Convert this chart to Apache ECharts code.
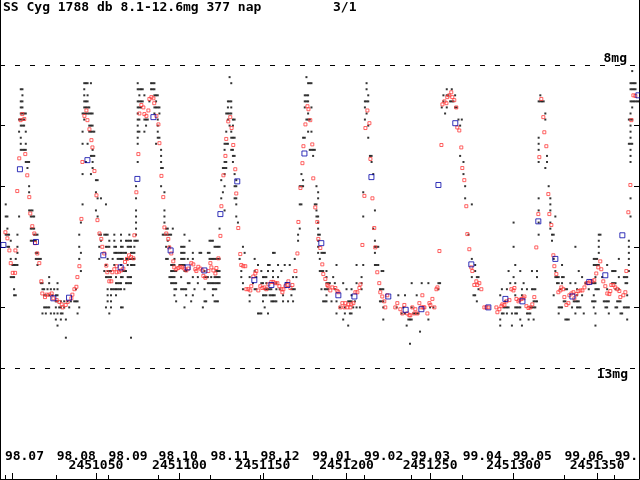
<!DOCTYPE html>
<html>
<head>
<meta charset="utf-8">
<title>SS Cyg 1788 db</title>
<script src="https://cdn.jsdelivr.net/npm/echarts@6.0.0/dist/echarts.min.js"></script>
<style>
html, body { margin: 0; padding: 0; background: #fff; }
#main1 { width: 640px; height: 480px; }
</style>
</head>
<body>
<div id="main1"></div>
<script>
// day offsets are counted from JD 2451000
var JD0 = 2451000;

// visual estimates: [day, mag, mag, ...]
var visualEst = [
    [-4, 10.3, 10.5, 10.8], [-3, 10.5, 10.7, 10.8, 11.0], [-2, 10.8, 11.0], [-1, 10.9, 11.2, 11.5],
    [0, 11.3, 11.5], [1, 11.3, 11.5, 11.7, 11.8], [2, 11.2, 11.3, 11.8], [3, 10.8, 11.0, 11.1, 11.3],
    [4, 8.9, 9.1, 10.5], [5, 8.4, 8.6, 8.7, 8.8, 8.9, 9.0, 9.2, 9.3, 9.4], [6, 8.4, 8.5, 8.6, 8.7, 8.8, 8.9, 9.0, 9.4],
    [7, 8.8, 8.9, 9.0, 9.4], [8, 8.8, 9.1, 9.3, 9.4, 9.6], [9, 9.6, 9.7], [10, 9.6, 10.0, 10.1, 10.4],
    [11, 10.4, 10.5, 10.7, 10.9], [12, 10.4, 10.5, 10.7, 10.9], [13, 10.5, 10.7, 10.8, 10.9],
    [14, 10.8, 10.9, 11.1, 11.2], [15, 10.8, 11.1, 11.2, 11.3], [16, 11.2], [17, 11.2, 11.6],
    [18, 11.6, 11.7, 12.1], [19, 11.7, 11.8, 12.0], [20, 11.8, 12.0, 12.1], [21, 11.7, 12.0],
    [22, 11.5, 11.6, 11.8, 12.0], [23, 11.7, 12.1], [24, 11.8], [25, 11.7, 12.1], [26, 11.8, 11.9, 12.0, 12.2],
    [27, 11.6, 11.7, 11.8, 11.9, 12.1, 12.3], [28, 12.0], [29, 11.9, 12.0, 12.1, 12.2], [30, 12.1],
    [31, 11.9, 12.0], [32, 12.2, 12.5], [33, 11.9], [34, 12.0], [35, 11.9], [37, 11.9], [38, 11.7, 11.9],
    [39, 11.9, 12.1], [40, 10.8, 11.0, 11.2, 12.0], [41, 10.6, 11.1, 11.4], [42, 8.8, 9.1, 9.3, 9.8, 10.3],
    [43, 8.3, 8.4, 8.5, 8.6, 8.7, 8.8, 8.9], [44, 8.3, 8.6, 8.7, 8.8, 9.6], [45, 8.3, 8.5, 8.6, 8.7, 8.8, 9.3],
    [46, 8.7, 8.8, 9.0, 9.1], [47, 8.3, 8.8, 9.0, 9.1, 9.5, 9.8], [48, 8.8, 9.0, 9.1, 9.4, 9.5, 9.6, 9.7],
    [49, 9.1, 9.5], [50, 9.9, 10.1, 10.4], [51, 9.9, 10.2, 10.5], [52, 10.8, 11.0, 11.2], [53, 10.2, 10.8, 10.9],
    [55, 10.8, 11.4], [56, 10.3, 10.8, 11.0, 11.3, 11.5, 12.0], [57, 10.8, 11.0, 11.2, 11.4, 11.5, 11.7, 11.8, 11.9],
    [58, 10.9, 11.0, 11.4, 11.5, 12.1], [59, 11.4, 11.5, 11.7, 11.8, 11.9, 12.0], [60, 11.2, 11.7],
    [61, 10.8, 10.9, 11.0, 11.1, 11.3, 11.7], [62, 11.0, 11.1, 11.5, 11.6, 11.7, 11.8], [63, 11.1, 11.2, 11.6, 11.7],
    [64, 11.1, 11.2, 11.6, 11.7], [65, 10.8, 10.9, 11.0, 11.1, 11.2, 11.3, 11.5, 11.6, 11.7, 12.0],
    [66, 11.0, 11.1, 11.2, 11.4, 11.5, 12.0], [67, 11.1, 11.4, 11.7], [68, 10.9, 11.1, 11.2, 11.4, 11.6],
    [69, 10.9, 11.0, 11.2, 11.3, 11.5, 11.6], [70, 10.8, 10.9, 11.0, 11.2, 11.5, 11.6],
    [71, 10.9, 11.0, 11.1, 11.2, 11.3, 11.5, 11.6, 12.5], [72, 11.1, 11.2, 11.3], [73, 10.9, 11.0, 11.1, 11.2, 11.3],
    [74, 10.0, 10.2, 10.4, 10.5, 10.6, 10.7, 10.8, 10.9], [75, 8.3, 8.4, 8.6, 8.7, 8.8, 8.9, 9.0, 9.1, 9.2, 9.3, 9.6, 10.9],
    [76, 8.4, 8.5, 8.6, 8.7, 8.9, 9.1], [77, 8.4, 8.6, 8.7], [78, 8.4, 8.6], [79, 8.5, 8.9, 9.1], [80, 8.9, 9.0],
    [81, 8.9], [82, 8.6], [83, 8.3, 8.4], [84, 8.3, 8.4], [85, 8.3, 8.4, 8.5, 8.7, 8.8], [86, 8.5, 8.6, 8.7, 9.3],
    [87, 8.5, 8.7, 8.9, 9.0, 9.1, 9.2], [88, 8.7, 8.8, 9.2], [89, 9.4, 9.5, 9.6, 9.7, 10.0], [90, 9.7, 10.8],
    [91, 10.1, 10.4, 10.5, 10.6, 10.8], [92, 10.7, 10.8, 11.0, 11.2], [93, 10.7, 10.8, 10.9, 11.2], [94, 10.8, 11.0, 11.5],
    [95, 10.8, 11.3, 11.4, 11.5, 11.6], [96, 10.7, 11.3, 11.4, 11.5, 11.6], [97, 11.2, 11.3, 11.4, 11.5, 11.6, 11.7, 11.8],
    [98, 11.4, 11.6, 11.7, 11.9], [100, 11.3], [101, 11.0, 11.1, 11.2, 11.3, 11.5, 11.7], [102, 11.0, 11.1, 11.2, 11.3, 11.7],
    [103, 10.8, 11.0, 11.1, 11.2, 11.3, 11.4, 11.7, 12.0], [104, 11.4, 11.7, 11.8], [105, 11.2, 11.6], [106, 10.9, 11.6],
    [107, 11.9], [108, 11.1, 11.2, 11.5, 11.8], [109, 11.7], [111, 11.5, 11.6], [112, 11.1], [113, 11.1], [114, 12.0],
    [115, 11.4, 11.5, 11.7, 11.9], [116, 11.5, 11.9], [117, 11.1, 11.5, 11.6], [118, 10.9, 11.1, 11.2, 11.6],
    [119, 10.9, 11.2, 11.5, 11.6], [120, 10.9, 11.2, 11.6, 11.7, 11.8], [121, 11.0, 11.2, 11.5, 11.6, 11.7, 11.9],
    [122, 11.0, 11.2, 11.4, 11.5, 11.6, 11.7, 11.9], [123, 11.0, 11.2, 11.4, 11.5, 11.6, 11.9],
    [124, 10.7, 11.0, 11.2, 11.4, 11.5, 11.6], [125, 9.9, 10.2], [126, 9.7, 10.1], [127, 9.3, 9.4, 9.6, 9.7, 9.8, 10.0, 10.4],
    [128, 8.8, 9.1, 9.3, 9.6, 9.7], [129, 8.6, 8.7, 8.8, 8.9, 9.3], [130, 8.2, 8.6, 8.8, 9.0],
    [131, 8.3, 8.6, 8.7, 8.8, 9.1, 9.2, 9.4], [132, 8.9, 9.0, 9.2, 9.4, 9.5, 9.6], [133, 8.9, 9.2, 9.5, 9.8, 10.0, 10.2],
    [134, 9.9, 10.0, 10.2, 10.3, 10.5], [135, 10.6], [136, 11.2], [137, 11.4, 11.5], [138, 11.0, 11.6, 11.7], [139, 11.1],
    [142, 11.5, 11.8, 11.9], [144, 11.6], [145, 11.2, 11.4, 11.7], [146, 11.5, 11.7], [147, 11.3, 12.1], [148, 12.1],
    [149, 11.4, 11.6, 12.1], [150, 11.5, 11.6, 11.8, 11.9], [151, 11.5, 11.7, 11.8, 12.0], [152, 11.5, 11.6, 11.7, 11.8],
    [153, 11.3, 11.4, 11.7, 12.1], [154, 11.3, 11.7, 11.8], [155, 11.7, 11.8, 11.9], [156, 11.1, 11.4, 11.5, 11.8, 11.9],
    [157, 11.1, 11.8, 11.9], [158, 11.6, 11.7, 11.9], [159, 11.3, 11.5], [160, 11.7], [161, 11.4], [162, 11.8, 11.9],
    [163, 11.3], [164, 11.6], [165, 11.9], [166, 11.3], [167, 11.7, 11.8], [168, 11.5, 11.7, 11.9], [169, 11.2, 11.7],
    [170, 11.5], [171, 10.8, 10.9], [172, 10.0, 10.3, 10.7], [173, 9.8, 10.0, 10.3], [174, 9.2, 9.9, 10.0],
    [175, 8.5, 8.6, 8.7, 9.2], [176, 8.2, 8.5, 8.6, 8.9], [177, 8.3, 8.5, 8.6, 8.8, 8.9, 9.1], [178, 8.3, 8.9, 9.4],
    [179, 8.3, 8.7, 9.1, 9.4], [180, 9.4, 9.5], [181, 9.4, 10.3], [182, 10.0, 10.3, 10.4, 10.5],
    [183, 10.1, 10.2, 10.5, 10.6, 10.7, 10.8, 10.9, 11.0, 11.1], [184, 10.8, 11.2, 11.4], [185, 11.1, 11.4, 11.7],
    [186, 11.1, 11.4, 11.9], [187, 11.1, 11.7, 11.9], [188, 11.4, 11.5, 11.6, 11.7, 11.8, 11.9], [189, 11.6, 11.7],
    [190, 11.6], [191, 11.9], [192, 11.5], [193, 11.6, 11.7], [194, 11.3, 11.9, 12.1], [196, 12.0], [198, 11.6, 12.2],
    [199, 12.0, 12.1], [200, 11.7], [201, 11.9, 12.3], [202, 11.9, 12.1], [203, 11.7, 11.8, 11.9, 12.1], [204, 12.0],
    [205, 11.9], [206, 11.3, 11.6, 12.0], [208, 12.0], [209, 11.5, 11.6, 11.7], [210, 10.1, 10.5, 11.3],
    [211, 8.6, 8.7, 8.9], [212, 8.3, 8.4, 8.6, 8.8], [213, 8.5, 8.6, 9.0, 9.2], [214, 9.5], [215, 9.5, 9.6],
    [216, 9.8, 10.7], [217, 10.4, 10.9, 11.0, 11.1, 11.3], [218, 11.0, 11.3], [219, 11.0, 11.3], [220, 11.7, 11.9],
    [221, 11.4, 11.7, 11.9], [222, 11.4, 11.7, 11.9, 12.0, 12.2], [230, 12.0], [231, 11.8], [233, 12.1], [234, 12.0],
    [235, 11.8, 12.1], [236, 12.3], [237, 12.2], [238, 12.2, 12.6], [239, 11.6, 12.0, 12.2], [240, 12.1], [241, 12.1],
    [242, 11.8, 12.1], [243, 12.1], [244, 12.4], [245, 11.6], [249, 11.6, 12.2], [250, 12.0], [252, 12.0],
    [255, 11.6, 11.7], [256, 11.6], [257, 8.7], [258, 8.5, 8.6], [259, 8.8], [260, 8.4, 8.5, 8.7], [261, 8.5],
    [262, 8.6], [263, 8.4, 8.6], [264, 8.6], [265, 8.5, 8.7], [266, 8.7], [267, 8.9], [268, 9.0, 9.5], [269, 8.9],
    [270, 9.6, 9.8], [271, 10.0, 10.2], [273, 10.8], [275, 10.3, 11.2, 11.5], [276, 11.8], [277, 11.3, 11.4, 11.8],
    [278, 11.5, 11.9], [279, 11.5, 11.7], [292, 11.8, 12.2, 12.3], [293, 11.7, 12.1], [294, 12.0, 12.1],
    [295, 11.9, 12.0], [296, 11.7, 12.0, 12.1], [297, 11.4, 12.0], [298, 11.6], [299, 12.1, 12.3],
    [300, 10.6, 11.0, 11.5], [301, 11.3, 11.6, 11.8, 12.0, 12.1], [302, 12.0, 12.1], [303, 12.0], [304, 11.4, 12.0, 12.2],
    [305, 11.7, 11.8, 12.3], [306, 11.6], [308, 11.7, 12.1], [309, 12.1, 12.2], [310, 12.0, 12.1],
    [311, 11.4, 11.7, 12.0], [312, 11.7, 11.9, 12.0, 12.2], [313, 11.7, 11.9, 12.0], [314, 11.4, 11.5, 11.9],
    [315, 8.6, 9.2, 9.3, 9.4, 9.6, 10.2, 10.4, 10.6, 10.8], [316, 8.5, 8.6], [317, 8.6], [318, 8.6], [319, 8.8, 8.9, 9.7],
    [320, 9.5, 9.6], [321, 10.0], [322, 10.2, 10.3, 10.4, 10.6, 10.7], [323, 10.8, 10.9], [324, 10.8, 11.2, 11.8],
    [325, 10.5, 11.4, 11.5], [326, 11.5, 11.6], [327, 11.5, 11.6, 12.0, 12.1], [328, 11.7, 12.0], [329, 11.3, 11.5, 11.6, 12.0],
    [330, 11.5, 11.9], [331, 11.7, 11.9, 12.2], [332, 11.7, 12.2], [333, 12.2], [334, 11.6], [335, 12.0], [336, 11.9],
    [337, 11.0, 11.6, 11.9, 12.1], [338, 11.7, 11.8, 11.9, 12.0], [339, 11.4, 11.9, 12.0], [340, 12.0], [341, 11.5, 11.8],
    [342, 12.1], [343, 11.6], [345, 11.7], [347, 11.6, 11.9], [348, 11.2, 11.3, 11.6, 11.8, 11.9, 12.0],
    [349, 11.2, 11.3, 11.5, 11.6, 11.7, 11.9, 12.1, 12.3], [350, 11.2, 11.3, 11.7], [351, 10.8, 10.9, 11.0, 11.1, 11.3, 11.7],
    [352, 10.8], [353, 11.5], [354, 11.9], [355, 11.9, 12.0], [356, 11.3, 11.7, 11.9, 12.0], [357, 11.9, 12.1],
    [359, 11.4, 11.6], [360, 11.4, 11.6], [361, 11.4, 11.6, 11.7, 12.0], [362, 11.9, 12.0], [363, 11.2, 11.5, 11.7, 11.9],
    [364, 11.9, 12.1], [365, 12.1], [366, 11.5, 12.0], [367, 11.5, 11.6, 12.0], [368, 11.5, 11.6, 11.8, 12.0, 12.2],
    [369, 8.9, 9.3, 10.9, 11.0, 11.1, 11.2, 11.3, 11.4, 12.0],
    [370, 8.3, 8.4, 8.6, 8.8, 8.9, 9.0, 9.1, 9.2, 9.3, 9.4, 9.5, 9.6, 10.2, 10.5],
    [371, 8.1, 8.3, 8.4, 8.6, 8.7, 8.9, 9.3], [372, 8.3, 8.4, 8.6], [373, 8.3, 8.4, 8.6], [374, 8.6], [375, 8.6]
];

// red squares: [day, mag]
var redObs = [
    [-4.2, 10.76], [-3.0, 10.86], [-1.8, 11.06], [-1.0, 11.27], [0.2, 11.43], [1.6, 11.43], [1.8, 11.06], [2.9, 10.08],
    [4.1, 9.54], [4.9, 8.91], [5.9, 8.81], [7.1, 8.89], [7.7, 9.47], [8.9, 9.82], [10.1, 10.18], [10.7, 10.45],
    [11.9, 10.66], [13.1, 10.78], [13.5, 10.94], [14.9, 11.11], [16.1, 11.27], [17.3, 11.57], [17.9, 11.77],
    [19.5, 11.83], [20.5, 11.79], [22.1, 11.79], [23.5, 11.77], [24.5, 11.85], [26.5, 11.88], [28.1, 11.91],
    [29.5, 11.95], [30.1, 12.0], [31.9, 11.96], [33.1, 11.91], [35.3, 11.85], [35.9, 11.79], [37.1, 11.7],
    [38.3, 11.66], [38.9, 11.5], [40.1, 11.32], [41.3, 10.54], [41.9, 9.6], [43.1, 8.84], [44.3, 8.75], [44.9, 8.91],
    [46.1, 9.06], [47.3, 9.24], [47.9, 9.36], [49.1, 9.75], [50.3, 10.15], [50.9, 10.56], [52.1, 10.78], [53.2, 10.87],
    [53.8, 11.0], [55.0, 11.11], [56.2, 11.31], [56.8, 11.42], [58.0, 11.57], [59.2, 11.57], [59.8, 11.42],
    [61.0, 11.37], [62.4, 11.32], [62.4, 11.42], [63.8, 11.41], [65.0, 11.39], [66.4, 11.36], [67.4, 11.25],
    [68.6, 11.2], [69.8, 11.14], [71.0, 11.17], [72.4, 11.19], [73.0, 10.81], [74.2, 10.1], [75.4, 9.47], [76.0, 8.8],
    [77.2, 8.66], [78.4, 8.7], [79.0, 8.81], [80.2, 8.84], [81.4, 8.75], [82.0, 8.56], [83.2, 8.53], [84.4, 8.55],
    [84.9, 8.63], [86.2, 8.84], [87.4, 8.98], [88.0, 9.29], [89.2, 9.83], [90.3, 10.18], [91.0, 10.68], [92.1, 10.78],
    [93.3, 10.87], [93.9, 11.01], [95.1, 11.11], [96.3, 11.24], [96.9, 11.34], [98.1, 11.37], [99.3, 11.35],
    [100.5, 11.33], [101.7, 11.34], [102.9, 11.36], [104.1, 11.39], [105.3, 11.36], [107.1, 11.27], [108.3, 11.29],
    [109.5, 11.37], [110.1, 11.4], [111.3, 11.33], [112.5, 11.36], [113.7, 11.39], [114.3, 11.48], [115.5, 11.51],
    [117.3, 11.4], [118.5, 11.27], [119.1, 11.34], [120.3, 11.39], [121.5, 11.44], [122.1, 11.35], [123.3, 11.19],
    [124.5, 10.82], [125.1, 10.33], [126.3, 9.82], [127.5, 9.5], [128.0, 9.22], [129.2, 8.93], [130.4, 8.86],
    [131.2, 9.04], [132.2, 9.32], [133.4, 9.72], [134.0, 10.12], [135.2, 10.69], [136.4, 11.12], [137.0, 11.3],
    [138.2, 11.32], [139.4, 11.32], [140.0, 11.7], [141.2, 11.7], [142.4, 11.72], [143.0, 11.65], [144.2, 11.49],
    [145.4, 11.44], [146.0, 11.4], [147.2, 11.72], [148.4, 11.65], [149.6, 11.68], [150.8, 11.67], [152.0, 11.7],
    [153.2, 11.62], [155.0, 11.58], [156.2, 11.58], [157.4, 11.6], [158.6, 11.6], [159.8, 11.65], [161.0, 11.7],
    [161.6, 11.75], [162.2, 11.7], [163.4, 11.65], [164.6, 11.63], [165.2, 11.57], [166.4, 11.68], [167.6, 11.63],
    [169.4, 11.4], [170.6, 11.11], [171.2, 10.59], [172.4, 10.03], [173.6, 9.62], [174.2, 9.34], [175.4, 8.98],
    [176.6, 8.68], [177.2, 8.73], [178.3, 8.91], [179.5, 9.31], [180.1, 9.87], [181.3, 10.35], [182.5, 10.59],
    [183.1, 10.87], [184.3, 11.02], [185.5, 11.29], [186.1, 11.45], [187.3, 11.53], [188.5, 11.63], [189.1, 11.65],
    [190.3, 11.72], [191.5, 11.67], [193.3, 11.68], [194.5, 11.73], [195.1, 11.75], [196.3, 12.0], [197.5, 11.93],
    [198.7, 12.0], [199.3, 11.93], [200.5, 12.0], [201.1, 11.95], [202.3, 12.0], [202.9, 11.95], [204.1, 11.93],
    [205.3, 11.75], [206.5, 11.75], [207.7, 11.68], [208.3, 11.62], [209.5, 10.97], [210.7, 10.16], [211.3, 9.04],
    [212.5, 8.75], [213.7, 8.96], [214.3, 9.55], [215.5, 10.2], [216.6, 10.69], [217.2, 11.01], [218.4, 11.42],
    [219.6, 11.6], [220.2, 11.75], [221.4, 11.82], [222.6, 11.9], [223.2, 12.0], [224.4, 11.8], [229.2, 12.0],
    [230.4, 11.93], [232.2, 12.03], [233.4, 12.1], [234.6, 11.96], [236.4, 12.1], [237.6, 12.13], [238.2, 12.13],
    [239.4, 12.0], [240.6, 12.1], [241.2, 12.03], [242.4, 12.1], [243.6, 11.93], [244.8, 12.0], [245.4, 11.8],
    [246.0, 12.0], [246.6, 12.0], [248.4, 12.1], [249.6, 11.93], [250.2, 11.96], [251.4, 11.86], [252.6, 12.0],
    [253.8, 11.7], [254.4, 11.67], [255.6, 11.07], [256.8, 9.32], [257.4, 8.65], [258.6, 8.6], [259.8, 8.63],
    [260.3, 8.53], [261.5, 8.5], [262.7, 8.45], [263.3, 8.53], [264.5, 8.58], [265.7, 8.7], [266.3, 9.03],
    [267.5, 9.08], [268.7, 9.36], [269.3, 9.7], [270.5, 9.9], [271.7, 10.33], [272.3, 10.79], [273.5, 11.04],
    [274.7, 11.34], [275.3, 11.4], [276.5, 11.63], [277.7, 11.57], [278.3, 11.63], [279.5, 11.6], [280.7, 11.7],
    [282.5, 12.0], [283.7, 12.0], [284.9, 12.0], [289.7, 12.0], [290.3, 12.08], [291.5, 12.03], [292.7, 11.98],
    [293.3, 11.95], [294.5, 11.96], [295.7, 11.9], [297.5, 11.88], [298.7, 11.7], [299.9, 11.72], [300.5, 11.68],
    [301.7, 11.86], [302.9, 11.9], [303.5, 11.88], [304.7, 11.86], [305.9, 11.85], [306.5, 11.82], [307.7, 11.98],
    [308.9, 12.01], [310.0, 12.0], [311.2, 11.95], [312.4, 11.83], [313.6, 11.01], [314.8, 10.46], [315.4, 9.52],
    [316.6, 8.56], [317.8, 8.86], [318.4, 9.11], [319.6, 9.34], [320.8, 10.13], [321.4, 10.46], [322.6, 10.64],
    [323.8, 11.14], [324.4, 11.32], [325.6, 11.45], [326.8, 11.75], [328.0, 11.72], [328.6, 11.67], [329.8, 11.7],
    [330.4, 11.83], [331.6, 11.96], [332.8, 11.93], [333.4, 11.8], [334.6, 11.77], [335.8, 11.75], [336.4, 11.85],
    [337.6, 11.78], [338.8, 11.73], [340.0, 11.72], [341.2, 11.72], [342.4, 11.67], [343.6, 11.6], [344.8, 11.6],
    [345.9, 11.57], [347.1, 11.57], [348.3, 11.55], [349.5, 11.44], [350.7, 11.34], [351.9, 11.24], [352.5, 11.37],
    [353.7, 11.57], [354.9, 11.65], [356.1, 11.77], [357.3, 11.78], [357.9, 11.73], [358.5, 11.63], [359.7, 11.63],
    [360.9, 11.67], [362.1, 11.7], [363.3, 11.73], [363.9, 11.83], [365.7, 11.8], [366.9, 11.75], [367.5, 11.4],
    [368.7, 10.43], [369.9, 9.98], [370.5, 8.91], [371.7, 8.5], [372.9, 8.51]
];

// blue squares (about every ten days): [day, mag]
var blueObs = [
    [-5.4, 10.97], [4.5, 9.72], [14.1, 10.92], [24.5, 11.85], [33.9, 11.84], [44.9, 9.57], [54.4, 11.14],
    [64.8, 11.34], [74.8, 9.88], [84.4, 8.86], [94.7, 11.06], [104.9, 11.34], [114.9, 11.39], [124.5, 10.46],
    [134.6, 9.92], [144.8, 11.55], [155.0, 11.63], [164.6, 11.63], [174.8, 9.46], [184.9, 10.94], [195.1, 11.8],
    [204.7, 11.82], [214.9, 9.85], [225.0, 11.82], [235.4, 12.04], [244.8, 12.03], [255.0, 9.98], [265.1, 8.96],
    [274.7, 11.29], [284.9, 12.0], [295.1, 11.86], [305.3, 11.9], [314.8, 10.58], [325.0, 11.2], [335.2, 11.82],
    [345.3, 11.58], [354.9, 11.47], [365.1, 10.81], [374.7, 8.5]
];

var jdTicks = [2451000, 2451050, 2451100, 2451150, 2451200, 2451250, 2451300, 2451350];
var jdLabels = [2451050, 2451100, 2451150, 2451200, 2451250, 2451300, 2451350];
var monthTicks = [2450995.5, 2451026.5, 2451057.5, 2451087.5, 2451118.5, 2451148.5, 2451179.5,
    2451210.5, 2451238.5, 2451269.5, 2451299.5, 2451330.5, 2451360.5];
var monthLabels = ['98.07', '98.08', '98.09', '98.10', '98.11', '98.12', '99.01',
    '99.02', '99.03', '99.04', '99.05', '99.06', '99.07'];
var magTicks = [9, 10, 11, 12];

var titleText = 'SS Cyg 1788 db 8.1-12.6mg 377 nap';

// axis extents, so that the frame fills the whole picture
var jdMin = 2450992.57, jdMax = 2451375.07;
var magTop = 6.927, magBottom = 14.832;

var visualPoints = [];
visualEst.forEach(function (row) {
    for (var i = 1; i < row.length; i++) {
        visualPoints.push([JD0 + row[0], row[i]]);
    }
});
function toJD(list) {
    return list.map(function (p) { return [JD0 + p[0], p[1]]; });
}

var font = 'DejaVu Sans Mono';
var txt = { color: '#000', fontFamily: font, fontWeight: 'bold', fontSize: 13 };

var myChart = echarts.init(document.getElementById('main1'), null, { renderer: 'canvas' });

var yAxisBase = {
    type: 'value',
    inverse: true,
    min: magTop,
    max: magBottom,
    axisLine: { show: true, lineStyle: { color: '#000', width: 1 } },
    axisTick: { show: true, inside: true, length: 5, customValues: magTicks, lineStyle: { color: '#000' } },
    axisLabel: { show: false },
    splitLine: { show: false }
};

option = {
    animation: false,
    backgroundColor: '#fff',
    title: [
        { text: titleText, left: 3, top: 1, padding: 0, textStyle: txt },
        { text: '3/1', left: 333, top: 1, padding: 0, textStyle: txt }
    ],
    grid: { left: 0, right: 1, top: 0, bottom: 1, outerBoundsMode: 'none' },
    xAxis: [
        {
            type: 'value',
            min: jdMin,
            max: jdMax,
            position: 'bottom',
            axisLine: { show: true, onZero: false, lineStyle: { color: '#000', width: 1 } },
            axisTick: { show: true, inside: true, length: 6, customValues: jdTicks, lineStyle: { color: '#000' } },
            axisLabel: {
                show: true, inside: true, margin: 13, verticalAlign: 'middle',
                customValues: jdLabels,
                color: '#000', fontFamily: font, fontWeight: 'bold', fontSize: 13,
                formatter: function (v) { return String(Math.round(v)); }
            },
            splitLine: { show: false }
        },
        {
            type: 'value',
            min: jdMin,
            max: jdMax,
            position: 'bottom',
            axisLine: { show: false, onZero: false },
            axisTick: { show: true, inside: true, length: 4, customValues: monthTicks, lineStyle: { color: '#000' } },
            axisLabel: {
                show: true, inside: true, margin: 22, verticalAlign: 'middle', align: 'left',
                customValues: monthTicks,
                color: '#000', fontFamily: font, fontWeight: 'bold', fontSize: 13,
                formatter: function (v) {
                    var best = 0;
                    for (var i = 1; i < monthTicks.length; i++) {
                        if (Math.abs(monthTicks[i] - v) < Math.abs(monthTicks[best] - v)) best = i;
                    }
                    return monthLabels[best];
                }
            },
            splitLine: { show: false }
        }
    ],
    yAxis: [
        Object.assign({}, yAxisBase, { position: 'left' }),
        Object.assign({}, yAxisBase, { position: 'right' })
    ],
    series: [
        {
            name: 'visual',
            type: 'scatter',
            symbol: 'rect',
            symbolSize: 2,
            itemStyle: { color: '#000' },
            data: visualPoints,
            markLine: {
                silent: true,
                symbol: 'none',
                animation: false,
                lineStyle: { color: '#000', width: 1, type: [5, 10] },
                label: { color: '#000', fontFamily: font, fontWeight: 'bold', fontSize: 13 },
                data: [
                    { yAxis: 8, label: { formatter: '8mg', position: 'insideEndTop', distance: [12, 0] } },
                    { yAxis: 13, label: { formatter: '13mg', position: 'insideEndBottom', distance: [11, 0] } }
                ]
            }
        },
        {
            name: 'red',
            type: 'scatter',
            symbol: 'rect',
            symbolSize: 3,
            itemStyle: { color: 'rgba(255,255,255,0)', borderColor: '#ff3b3b', borderWidth: 1 },
            data: toJD(redObs)
        },
        {
            name: 'blue',
            type: 'scatter',
            symbol: 'rect',
            symbolSize: 5,
            itemStyle: { color: 'rgba(255,255,255,0)', borderColor: '#0000a8', borderWidth: 1 },
            data: toJD(blueObs)
        }
    ]
};
myChart.setOption(option);
</script>
</body>
</html>
